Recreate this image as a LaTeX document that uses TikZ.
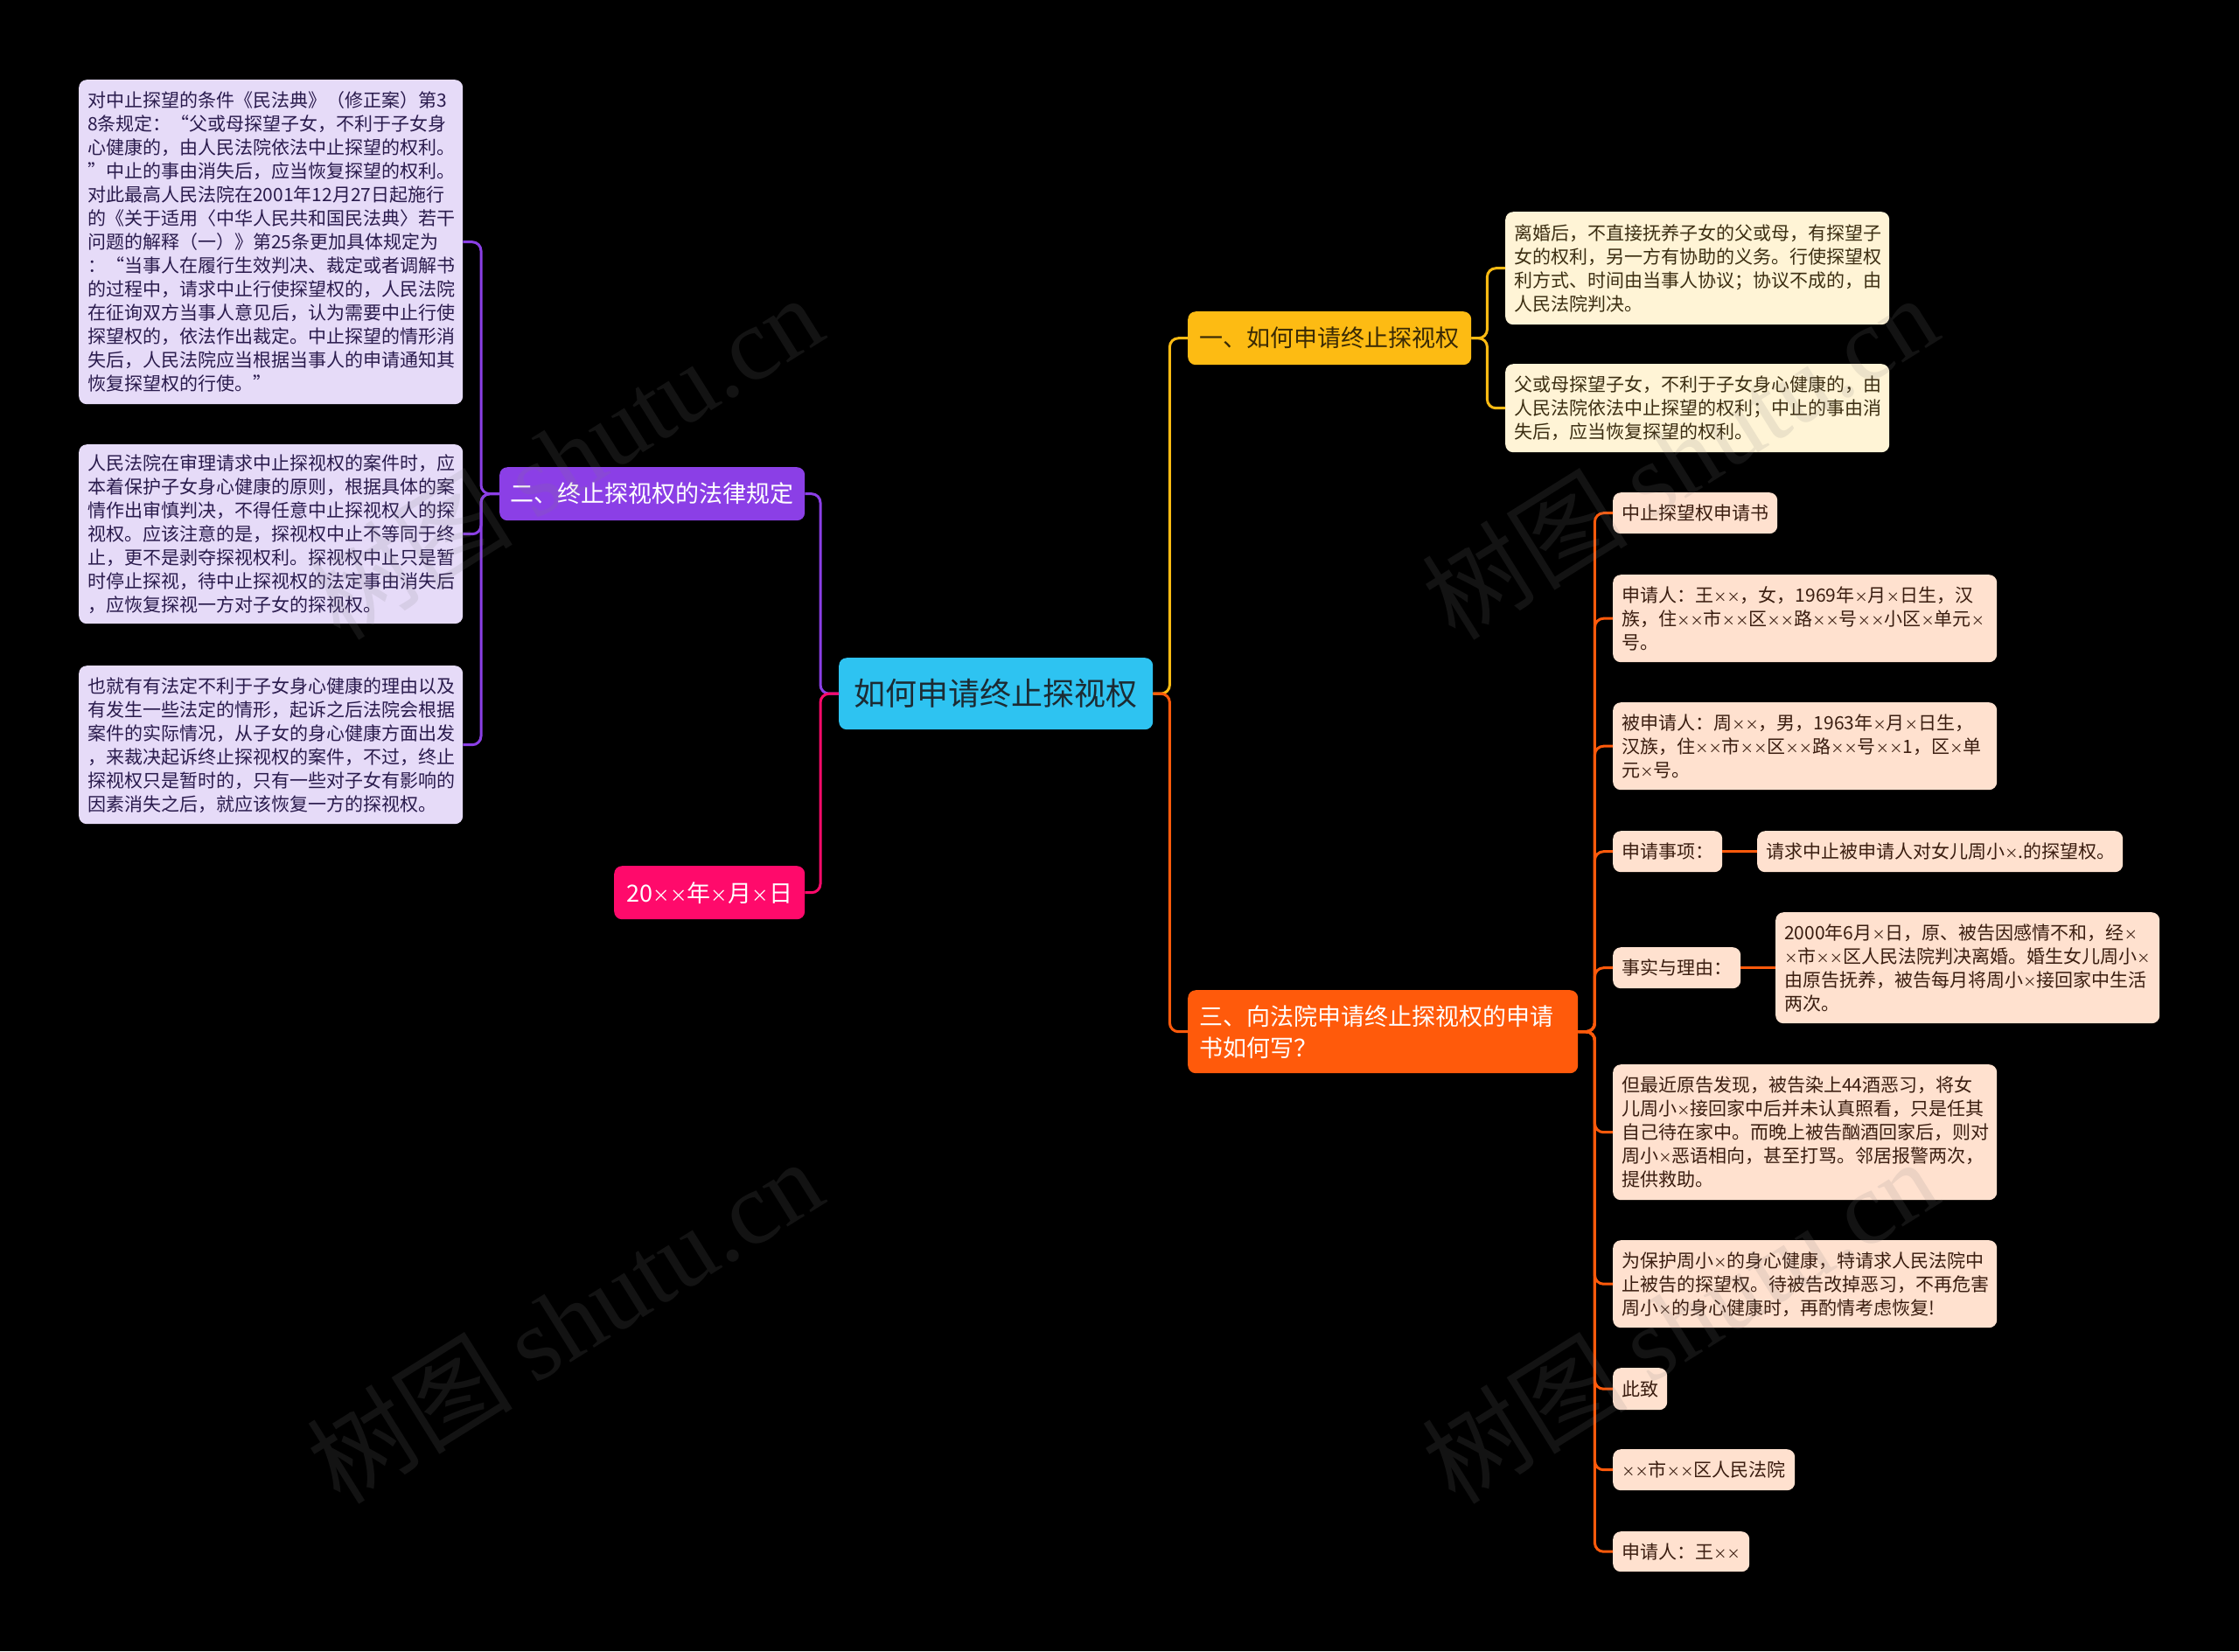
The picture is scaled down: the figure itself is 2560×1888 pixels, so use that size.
\documentclass[tikz,border=0pt]{standalone}
\usepackage{fontspec}
\setmainfont{Noto Sans CJK SC}
\newfontfamily\wmserif{Liberation Serif}
\definecolor{rootc}{HTML}{2EC3F1}
\definecolor{roottxt}{HTML}{1C2B33}
\definecolor{purp}{HTML}{8B3FE6}
\definecolor{lav}{HTML}{E6DBF8}
\definecolor{lavtxt}{HTML}{2A1B4D}
\definecolor{pinkc}{HTML}{FF0A6B}
\definecolor{yel}{HTML}{FDBB13}
\definecolor{yeltxt}{HTML}{3A2A05}
\definecolor{cream}{HTML}{FFF4D6}
\definecolor{creamtxt}{HTML}{3C2E12}
\definecolor{ora}{HTML}{FF5A0B}
\definecolor{peach}{HTML}{FFE1CF}
\definecolor{peachtxt}{HTML}{3A1D10}
\newcommand\xx{\makebox[0.73em]{\fontsize{0.72em}{1em}\selectfont ×}}
\newcommand\mmbox[7]{%
  \pgfmathsetmacro\mmw{#5-#3}%
  \pgfmathsetmacro\mmh{#6-#4}%
  \node[#2, anchor=north west, minimum width=\mmw pt, minimum height=\mmh pt] (#1) at (#3,#4) {#7};}
\tikzset{
  basebox/.style={rounded corners=9pt, inner ysep=0pt},
  rootbox/.style={basebox, fill=rootc, text=roottxt, font=\fontsize{36pt}{44pt}\selectfont, align=center},
  brbox/.style={basebox, font=\fontsize{27pt}{36pt}\selectfont, align=center},
  brtext/.style={basebox, font=\fontsize{27pt}{36pt}\selectfont, align=left, inner xsep=13pt, text width=#1},
  lavleaf/.style={basebox, fill=lav, text=lavtxt, font=\fontsize{21pt}{27pt}\selectfont, align=left, inner xsep=10pt, text width=#1},
  creamleaf/.style={basebox, fill=cream, text=creamtxt, font=\fontsize{21pt}{27pt}\selectfont, align=left, inner xsep=10pt, text width=#1},
  peachleaf/.style={basebox, fill=peach, text=peachtxt, font=\fontsize{21pt}{27pt}\selectfont, align=left, inner xsep=10pt, text width=#1},
  conn/.style={line width=3pt, rounded corners=10pt},
  wmark/.style={text=gray, opacity=0.15, rotate=32, font=\fontsize{118pt}{120pt}\selectfont}
}
\begin{document}
\begin{tikzpicture}[x=1pt,y=-1pt]
\fill[black] (0,0) rectangle (2560,1888);
\useasboundingbox (0,0) rectangle (2560,1888);

% root and main branches
\mmbox{root}{rootbox}{959}{752}{1318}{834}{如何申请终止探视权}
\mmbox{b2}{brbox, fill=purp, text=white}{571}{534}{920}{595}{二、终止探视权的法律规定}
\mmbox{date}{brbox, fill=pinkc, text=white}{702}{990}{920}{1051}{20\xx\xx 年\xx 月\xx 日}
\mmbox{b1}{brbox, fill=yel, text=yeltxt}{1358}{356}{1682}{417}{一、如何申请终止探视权}
\mmbox{b3}{brtext=420pt, fill=ora, text=white}{1358}{1132}{1804}{1227}{三、向法院申请终止探视权的申请\\书如何写？}

% left leaves
\mmbox{L1}{lavleaf=419pt}{90}{91}{529}{462}{对中止探望的条件《民法典》（修正案）第3\\8条规定：“父或母探望子女，不利于子女身\\心健康的，由人民法院依法中止探望的权利。\\”中止的事由消失后，应当恢复探望的权利。\\对此最高人民法院在2001年12月27日起施行\\的《关于适用〈中华人民共和国民法典〉若干\\问题的解释（一）》第25条更加具体规定为\\：“当事人在履行生效判决、裁定或者调解书\\的过程中，请求中止行使探望权的，人民法院\\在征询双方当事人意见后，认为需要中止行使\\探望权的，依法作出裁定。中止探望的情形消\\失后，人民法院应当根据当事人的申请通知其\\恢复探望权的行使。”}
\mmbox{L2}{lavleaf=419pt}{90}{508}{529}{713}{人民法院在审理请求中止探视权的案件时，应\\本着保护子女身心健康的原则，根据具体的案\\情作出审慎判决，不得任意中止探视权人的探\\视权。应该注意的是，探视权中止不等同于终\\止，更不是剥夺探视权利。探视权中止只是暂\\时停止探视，待中止探视权的法定事由消失后\\，应恢复探视一方对子女的探视权。}
\mmbox{L3}{lavleaf=419pt}{90}{761}{529}{942}{也就有有法定不利于子女身心健康的理由以及\\有发生一些法定的情形，起诉之后法院会根据\\案件的实际情况，从子女的身心健康方面出发\\，来裁决起诉终止探视权的案件，不过，终止\\探视权只是暂时的，只有一些对子女有影响的\\因素消失之后，就应该恢复一方的探视权。}

% yellow leaves
\mmbox{Y1}{creamleaf=419pt}{1721}{242}{2160}{371}{离婚后，不直接抚养子女的父或母，有探望子\\女的权利，另一方有协助的义务。行使探望权\\利方式、时间由当事人协议；协议不成的，由\\人民法院判决。}
\mmbox{Y2}{creamleaf=419pt}{1721}{416}{2160}{517}{父或母探望子女，不利于子女身心健康的，由\\人民法院依法中止探望的权利；中止的事由消\\失后，应当恢复探望的权利。}

% orange leaves
\mmbox{O1}{peachleaf=168pt}{1844}{563}{2032}{610}{中止探望权申请书}
\mmbox{O2}{peachleaf=419pt}{1844}{657}{2283}{757}{申请人：王\xx\xx，女，1969年\xx 月\xx 日生，汉\\族，住\xx\xx 市\xx\xx 区\xx\xx 路\xx\xx 号\xx\xx 小区\xx 单元\xx\\号。}
\mmbox{O3}{peachleaf=419pt}{1844}{803}{2283}{903}{被申请人：周\xx\xx，男，1963年\xx 月\xx 日生，\\汉族，住\xx\xx 市\xx\xx 区\xx\xx 路\xx\xx 号\xx\xx 1，区\xx 单\\元\xx 号。}
\mmbox{O4}{peachleaf=105pt}{1844}{950}{1969}{997}{申请事项：}
\mmbox{O4c}{peachleaf=398pt}{2009}{950}{2427}{997}{请求中止被申请人对女儿周小\xx.的探望权。}
\mmbox{O5}{peachleaf=126pt}{1844}{1083}{1990}{1130}{事实与理由：}
\mmbox{O5c}{peachleaf=419pt}{2030}{1043}{2469}{1170}{2000年6月\xx 日，原、被告因感情不和，经\xx\\\xx 市\xx\xx 区人民法院判决离婚。婚生女儿周小\xx\\由原告抚养，被告每月将周小\xx 接回家中生活\\两次。}
\mmbox{O6}{peachleaf=419pt}{1844}{1217}{2283}{1372}{但最近原告发现，被告染上44酒恶习，将女\\儿周小\xx 接回家中后并未认真照看，只是任其\\自己待在家中。而晚上被告酗酒回家后，则对\\周小\xx 恶语相向，甚至打骂。邻居报警两次，\\提供救助。}
\mmbox{O7}{peachleaf=419pt}{1844}{1418}{2283}{1518}{为保护周小\xx 的身心健康，特请求人民法院中\\止被告的探望权。待被告改掉恶习，不再危害\\周小\xx 的身心健康时，再酌情考虑恢复!}
\mmbox{O8}{peachleaf=42pt}{1844}{1564}{1906}{1612}{此致}
\mmbox{O9}{peachleaf=188pt}{1844}{1657}{2052}{1704}{\xx\xx 市\xx\xx 区人民法院}
\mmbox{O10}{peachleaf=136pt}{1844}{1751}{2000}{1797}{申请人：王\xx\xx}

% connectors
\draw[conn, draw=purp] (root.west) -- ++(-21,0) |- (b2.east);
\draw[conn, draw=pinkc] (root.west) -- ++(-21,0) |- (date.east);
\draw[conn, draw=yel] (root.east) -- ++(19,0) |- (b1.west);
\draw[conn, draw=ora] (root.east) -- ++(19,0) |- (b3.west);
\foreach \n in {L1,L2,L3}
  \draw[conn, draw=purp] (b2.west) -- ++(-21,0) |- (\n.east);
\foreach \n in {Y1,Y2}
  \draw[conn, draw=yel] (b1.east) -- ++(18,0) |- (\n.west);
\foreach \n in {O1,O2,O3,O4,O5,O6,O7,O8,O9,O10}
  \draw[conn, draw=ora] (b3.east) -- ++(19,0) |- (\n.west);
\draw[conn, draw=ora] (O4.east) -- (O4c.west);
\draw[conn, draw=ora] (O5.east) -- (O5c.west);

% watermarks
\node[wmark] (wm1) at (645,522) {树图 {\wmserif shutu.cn}};
\node[wmark] (wm2) at (1920,522) {树图 {\wmserif shutu.cn}};
\node[wmark] (wm3) at (645,1510) {树图 {\wmserif shutu.cn}};
\node[wmark] (wm4) at (1920,1510) {树图 {\wmserif shutu.cn}};
\end{tikzpicture}
\end{document}
